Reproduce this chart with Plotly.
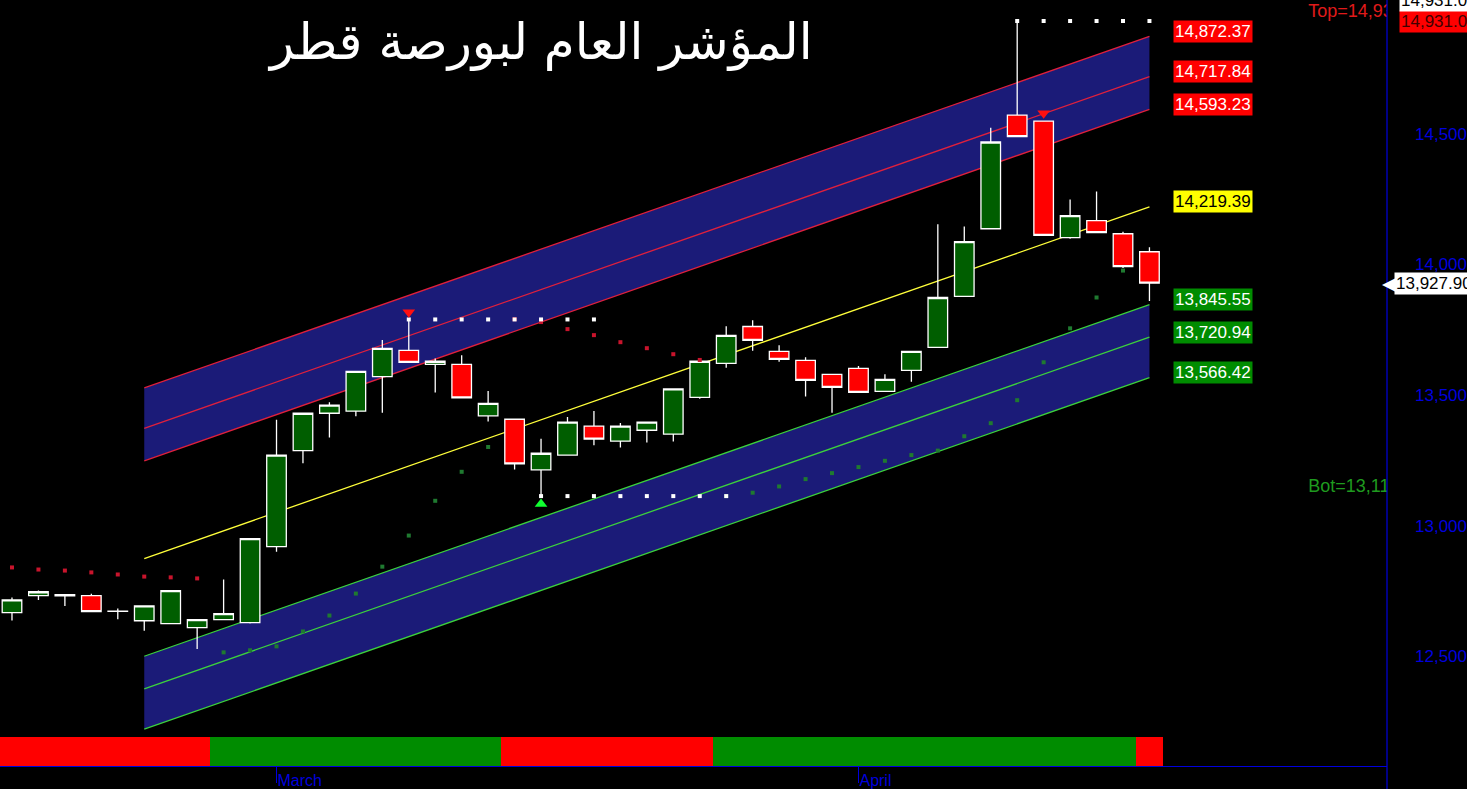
import plotly.graph_objects as go

# ---------------- data ----------------
idx = list(range(44))
opens  = [12667, 12732, 12731, 12732, 12672, 12636, 12625, 12610, 12640, 12629,
          12920, 13287, 13430, 13438, 13570, 13671, 13617, 13617, 13420, 13407,
          13213, 13270, 13381, 13323, 13365, 13350, 13491, 13621, 13762, 13667,
          13632, 13579, 13602, 13514, 13594, 13682, 13877, 14136, 14571, 14548,
          14102, 14167, 14117, 14048]
highs  = [12725, 12752, 12737, 12739, 12683, 12694, 12751, 12641, 12794, 12952,
          13405, 13431, 13472, 13591, 13710, 13789, 13640, 13652, 13515, 13408,
          13332, 13416, 13439, 13393, 13397, 13524, 13630, 13763, 13786, 13690,
          13644, 13580, 13611, 13579, 13668, 14153, 14145, 14523, 14931, 14550,
          14248, 14279, 14125, 14065]
lows   = [12637, 12715, 12692, 12670, 12642, 12598, 12624, 12528, 12639, 12625,
          12900, 13239, 13337, 13419, 13432, 13624, 13509, 13488, 13398, 13215,
          13113, 13269, 13308, 13299, 13318, 13322, 13486, 13604, 13669, 13627,
          13494, 13432, 13509, 13513, 13551, 13681, 13876, 14135, 14488, 14110,
          14098, 14120, 13986, 13860]
closes = [12716, 12747, 12736, 12671, 12673, 12693, 12751, 12640, 12663, 12950,
          13270, 13430, 13461, 13590, 13678, 13625, 13629, 13489, 13468, 13236,
          13277, 13396, 13331, 13381, 13396, 13523, 13629, 13728, 13709, 13636,
          13556, 13529, 13510, 13560, 13667, 13873, 14087, 14468, 14489, 14111,
          14186, 14121, 13991, 13927.9]

# regression channel (start/end bar, mid values, band offsets)
chan_x = [5, 43]
chan_mid = [12874.0, 14219.39]
upper_offsets = [652.98, 498.45, 373.84]
lower_offsets = [-373.84, -498.45, -652.97]

# parabolic SAR dots
sar_red_idx = [0, 1, 2, 3, 4, 5, 6, 7, 19, 20, 21, 22, 23, 24, 25, 26]
sar_red_val = [12840, 12832, 12828, 12821, 12813, 12805, 12802, 12798,
               13790, 13779, 13752, 13729, 13702, 13679, 13656, 13634]
sar_green_idx = [8, 9, 10, 11, 12, 13, 14, 15, 16, 17, 18,
                 27, 28, 29, 30, 31, 32, 33, 34, 35, 36, 37, 38, 39, 40, 41, 42]
sar_green_val = [12515, 12523, 12538, 12595, 12656, 12740, 12843, 12962, 13095, 13206, 13301,
                 13113, 13126, 13150, 13178, 13201, 13224, 13248, 13270, 13287, 13342,
                 13392, 13480, 13625, 13755, 13873, 13976]

# pivot dotted levels: (first bar, last bar, level)
pivot_start = [15, 20, 38]
pivot_end   = [22, 27, 43]
pivot_level = [13789, 13113, 14931]

# signals
sell_idx = [15, 39]
buy_idx = [20]

# trend state bar
trend_state = ['d'] * 8 + ['u'] * 11 + ['d'] * 8 + ['u'] * 16 + ['d']

month_pos = [10, 32]
month_txt = ['March', 'April']
ytick_vals = [12500, 13000, 13500, 14000, 14500]

top_val = 14931
bot_val = 13113
last_close = 13927.9

title_txt = 'المؤشر العام لبورصة قطر'

# ---------------- styling ----------------
FONT = 'Arial, Liberation Sans, sans-serif'
BLUE_FILL = '#1b1b78'
RED_LINE = '#e0203c'
GREEN_LINE = '#3cd23c'
AXIS_BLUE = '#0000dd'

fig = go.Figure()


def band(off):
    return [m + off for m in chan_mid]


common = dict(hoverinfo='skip', showlegend=False, xaxis='x', yaxis='y')

# channel drawn as shapes beneath the candles
shapes = []


def band_path(off_a, off_b):
    a, b = band(off_a), band(off_b)
    return (f'M {chan_x[0]},{a[0]} L {chan_x[1]},{a[1]} '
            f'L {chan_x[1]},{b[1]} L {chan_x[0]},{b[0]} Z')


shapes.append(dict(type='path', xref='x', yref='y', path=band_path(upper_offsets[0], upper_offsets[2]),
                   fillcolor=BLUE_FILL, line=dict(width=0), layer='below'))
shapes.append(dict(type='path', xref='x', yref='y', path=band_path(lower_offsets[0], lower_offsets[2]),
                   fillcolor=BLUE_FILL, line=dict(width=0), layer='below'))
for offs, col in ((upper_offsets, RED_LINE), (lower_offsets, GREEN_LINE), ([0.0], '#ffff3a')):
    for off in offs:
        yv = band(off)
        shapes.append(dict(type='line', xref='x', yref='y', x0=chan_x[0], y0=yv[0],
                           x1=chan_x[1], y1=yv[1], line=dict(color=col, width=1.3), layer='below'))
# right axis line
shapes.append(dict(type='line', xref='paper', yref='paper', x0=1, x1=1, y0=-0.03, y1=1,
                   line=dict(color=AXIS_BLUE, width=1.2), layer='above'))

# SAR
fig.add_trace(go.Scatter(x=sar_red_idx, y=sar_red_val, mode='markers',
                         marker=dict(symbol='square', size=4, color='#c8142c'), **common))
fig.add_trace(go.Scatter(x=sar_green_idx, y=sar_green_val, mode='markers',
                         marker=dict(symbol='square', size=4, color='#1f7a30'), **common))

# pivot dots
px, py = [], []
for s, e, lv in zip(pivot_start, pivot_end, pivot_level):
    for k in range(s, e + 1):
        px.append(k)
        py.append(lv)
fig.add_trace(go.Scatter(x=px, y=py, mode='markers',
                         marker=dict(symbol='square', size=4, color='white'), **common))

# candles
fig.add_trace(go.Candlestick(
    x=idx, open=opens, high=highs, low=lows, close=closes,
    increasing=dict(line=dict(color='white', width=1.3), fillcolor='#005e00'),
    decreasing=dict(line=dict(color='white', width=1.3), fillcolor='#ff0000'),
    whiskerwidth=0, hoverinfo='skip', showlegend=False, xaxis='x', yaxis='y'))

# signal triangles
fig.add_trace(go.Scatter(x=sell_idx, y=[highs[i] + 28 for i in sell_idx], mode='markers',
                         marker=dict(symbol='triangle-down', size=11, color='#ff1010'), **common))
fig.add_trace(go.Scatter(x=buy_idx, y=[lows[i] - 30 for i in buy_idx], mode='markers',
                         marker=dict(symbol='triangle-up', size=11, color='#10ff30'), **common))

# Top / Bot text (clipped by plot area)
fig.add_trace(go.Scatter(x=[49, 49], y=[top_val, bot_val], mode='text',
                         text=[f'Top={top_val:,.2f}', f'Bot={bot_val:,.2f}'],
                         textposition='top right',
                         textfont=dict(family=FONT, size=18, color=['#e01a1a', '#1f9a1f']),
                         cliponaxis=True, **common))

# trend bar
fig.add_trace(go.Bar(x=idx, y=[1] * len(idx), width=1,
                     marker=dict(color=['#ff0000' if s == 'd' else '#008c00' for s in trend_state],
                                 line=dict(width=0)),
                     hoverinfo='skip', showlegend=False, xaxis='x', yaxis='y2'))

# ---------------- annotations ----------------
ann = []
label_specs = [(upper_offsets[0], '#ff0000', 'white'), (upper_offsets[1], '#ff0000', 'white'),
               (upper_offsets[2], '#ff0000', 'white'), (0.0, '#ffff00', 'black'),
               (lower_offsets[0], '#008c00', 'white'), (lower_offsets[1], '#008c00', 'white'),
               (lower_offsets[2], '#008c00', 'white')]
for off, bg, fc in label_specs:
    v = chan_mid[1] + off
    ann.append(dict(x=chan_x[1], y=v, xref='x', yref='y', xanchor='left', yanchor='middle',
                    xshift=24, yshift=5, text=f'{v:,.2f}', showarrow=False,
                    bgcolor=bg, borderpad=1, font=dict(family=FONT, size=17, color=fc)))
# right edge price boxes
ann.append(dict(x=1, y=top_val, xref='paper', yref='y', xanchor='left', yanchor='middle',
                xshift=12, text=f'{top_val:,.2f}', showarrow=False, bgcolor='#ff0000',
                borderpad=1, font=dict(family=FONT, size=17, color='#400000')))
ann.append(dict(x=1, y=top_val, xref='paper', yref='y', xanchor='left', yanchor='middle',
                xshift=12, yshift=21, text=f'{top_val:,.2f}', showarrow=False, bgcolor='white',
                borderpad=1, font=dict(family=FONT, size=17, color='black')))
ann.append(dict(x=1, y=last_close, xref='paper', yref='y', xanchor='right', yanchor='middle',
                xshift=12, text='◀', showarrow=False,
                font=dict(family='DejaVu Sans, sans-serif', size=19, color='white')))
ann.append(dict(x=1, y=last_close, xref='paper', yref='y', xanchor='left', yanchor='middle',
                xshift=7, text=f'{last_close:,.2f}', showarrow=False, bgcolor='white',
                borderpad=1, font=dict(family=FONT, size=17, color='black')))
# title
ann.append(dict(x=0.389, y=0.945, xref='paper', yref='paper', xanchor='center', yanchor='middle',
                text=title_txt, showarrow=False,
                font=dict(family='DejaVu Sans, Noto Sans, sans-serif', size=50, color='white')))

fig.update_layout(
    width=1467, height=789,
    margin=dict(l=0, r=79, t=0, b=21),
    paper_bgcolor='black', plot_bgcolor='black',
    showlegend=False, bargap=0, boxgap=0.26, boxgroupgap=0,
    annotations=ann, shapes=shapes,
    xaxis=dict(domain=[0, 1], anchor='y2', range=[-0.453, 51.98], showgrid=False, zeroline=False,
               tickvals=month_pos, ticktext=month_txt, ticks='outside', ticklen=16,
               tickcolor=AXIS_BLUE, tickwidth=1, ticklabelposition='outside right',
               tickfont=dict(family=FONT, size=16, color=AXIS_BLUE),
               showline=True, linecolor=AXIS_BLUE, linewidth=1,
               rangeslider=dict(visible=False), fixedrange=True),
    yaxis=dict(domain=[0.04167, 1], anchor='x', side='right', range=[12202.3, 15011.45],
               showgrid=False, zeroline=False, tickvals=ytick_vals, tickformat=',',
               tickfont=dict(family=FONT, size=17, color=AXIS_BLUE), ticks='',
               ticklabelstandoff=27, showline=False, fixedrange=True),
    yaxis2=dict(domain=[0, 0.03776], anchor='x', range=[0, 1], showgrid=False, zeroline=False,
                showticklabels=False, showline=False, fixedrange=True),
)

fig.write_html('out.html', config={'displayModeBar': False},
               post_script="document.body.style.margin='0';document.body.style.overflow='hidden';")
